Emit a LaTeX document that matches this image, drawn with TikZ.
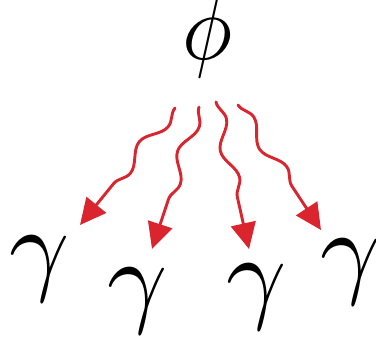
\documentclass[tikz,border=0pt]{standalone}
\usepackage{graphicx}
\usetikzlibrary{decorations.pathmorphing,arrows.meta}
\definecolor{phred}{RGB}{218,36,46}
\begin{document}
\begin{tikzpicture}[x=1pt,y=-1pt,
  photon/.style={phred, line width=2.9pt, line cap=round, decorate,
    decoration={snake, amplitude=6.5pt, segment length=60pt, pre length=0pt, post length=30pt},
    -{Triangle[length=26pt,width=25pt]}},
  sym/.style={inner sep=0pt}]
\useasboundingbox (0,0) rectangle (376,339);
\node[sym] (phi) at (208,36) {\scalebox{8.4}[9.4]{$\phi$}};
\node[sym] (g1) at (40,269) {\scalebox{10.5}{$\gamma$}};
\node[sym] (g2) at (138,301) {\scalebox{10.5}{$\gamma$}};
\node[sym] (g3) at (257,297) {\scalebox{10.5}{$\gamma$}};
\node[sym] (g4) at (351,272) {\scalebox{10.5}{$\gamma$}};
\coordinate (s1) at (175,108);
\coordinate (s2) at (199,107);
\coordinate (s3) at (216,102);
\coordinate (s4) at (238,105);
\coordinate (t1) at (80,225);
\coordinate (t2) at (152,249);
\coordinate (t3) at (249,249);
\coordinate (t4) at (321,230);
\draw[photon] (s1) -- (t1);
\draw[photon] (s2) -- (t2);
\draw[photon] (s3) -- (t3);
\draw[photon] (s4) -- (t4);
\end{tikzpicture}
\end{document}
